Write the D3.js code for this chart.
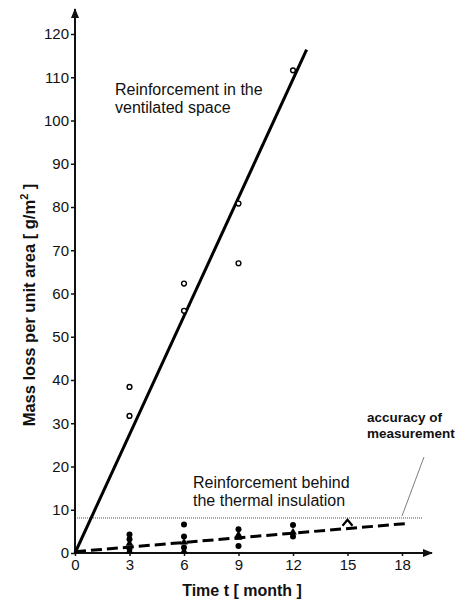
<!DOCTYPE html>
<html lang="en">
<head>
  <meta charset="utf-8">
  <title>Mass loss per unit area</title>
  <script src="https://d3js.org/d3.v7.min.js"></script>
<style>
body { margin: 0; background: #fff; }
svg { font-family: "Liberation Sans", Arial, sans-serif; }
.axis path, .axis line { stroke: #111; }
</style>
</head>
<body>
<svg width="461" height="603"></svg>
<script>

var xTicks = [0, 3, 6, 9, 12, 15, 18];
var yTicks = [0, 10, 20, 30, 40, 50, 60, 70, 80, 90, 100, 110, 120];

// open circles: reinforcement in the ventilated space
var ventMonths = [3, 3, 6, 6, 9, 9, 12];
var ventValues = [38.4, 31.7, 62.3, 56, 80.8, 67, 111.6];

// filled marks: reinforcement behind the thermal insulation
var dotMonths = [3, 3, 3, 6, 6, 6, 9, 9, 12, 12];
var dotValues = [4.3, 3.2, 1.0, 6.6, 3.8, 1.3, 5.5, 1.6, 6.5, 3.8];
var triMonths = [3, 3, 6, 6, 9, 9, 12];
var triValues = [2.2, 0.4, 2.5, 0.4, 4.2, 3.6, 4.8];
var caretMonths = [15];
var caretValues = [7.0];

// regression lines
var ventFit = [[0, 0], [12.75, 116.4]];
var behindFit = [[0, 0.3], [18.2, 6.8]];
var accuracy = 8.1;

var svg = d3.select('svg');

var x = d3.scaleLinear().domain([0, 18]).range([75, 402]);
var y = d3.scaleLinear().domain([0, 120]).range([553, 34]);

// axes with arrows
svg.append('defs').append('marker')
  .attr('id', 'arrow')
  .attr('viewBox', '0 0 10 10')
  .attr('refX', 9).attr('refY', 5)
  .attr('markerWidth', 5).attr('markerHeight', 5)
  .attr('orient', 'auto')
  .append('path')
  .attr('d', 'M0,1 L10,5 L0,9 Z')
  .attr('fill', '#111');

svg.append('line')
  .attr('x1', x(0)).attr('y1', y(0))
  .attr('x2', 432).attr('y2', y(0))
  .attr('stroke', '#111').attr('stroke-width', 2)
  .attr('marker-end', 'url(#arrow)');
svg.append('line')
  .attr('x1', x(0)).attr('y1', y(0))
  .attr('x2', x(0)).attr('y2', 9)
  .attr('stroke', '#111').attr('stroke-width', 2)
  .attr('marker-end', 'url(#arrow)');

var xAxis = svg.append('g')
  .attr('class', 'axis')
  .attr('transform', `translate(0,${y(0)})`)
  .call(d3.axisBottom(x).tickValues(xTicks).tickSize(3).tickPadding(3).tickFormat(d3.format('d')));
xAxis.select('.domain').remove();
xAxis.selectAll('line').attr('stroke-width', 1.5);
xAxis.selectAll('text').attr('font-size', 15).attr('fill', '#111')
  .attr('font-family', '"Liberation Sans", Arial, sans-serif');

var yAxis = svg.append('g')
  .attr('class', 'axis')
  .attr('transform', `translate(${x(0)},0)`)
  .call(d3.axisLeft(y).tickValues(yTicks).tickSize(4).tickPadding(2).tickFormat(d3.format('d')));
yAxis.select('.domain').remove();
yAxis.selectAll('line').attr('stroke-width', 1.5);
yAxis.selectAll('text').attr('font-size', 15).attr('fill', '#111')
  .attr('font-family', '"Liberation Sans", Arial, sans-serif');

// axis titles
var yTitle = svg.append('text')
  .attr('transform', 'translate(35,305) rotate(-90)')
  .attr('text-anchor', 'middle')
  .attr('font-size', 16.5)
  .attr('font-weight', 'bold')
  .attr('fill', '#111');
yTitle.append('tspan').text('Mass loss per unit area [ g/m');
yTitle.append('tspan').attr('dy', -7).attr('font-size', 11).text('2');
yTitle.append('tspan').attr('dy', 7).text(' ]');

svg.append('text')
  .attr('x', 242).attr('y', 596)
  .attr('text-anchor', 'middle')
  .attr('font-size', 16)
  .attr('font-weight', 'bold')
  .attr('fill', '#111')
  .text('Time t [ month ]');

// accuracy of measurement
svg.append('line')
  .attr('x1', x(0)).attr('x2', 422)
  .attr('y1', y(accuracy)).attr('y2', y(accuracy))
  .attr('stroke', '#222').attr('stroke-width', 0.8)
  .attr('stroke-dasharray', '1,1');
svg.append('line')
  .attr('x1', 402).attr('y1', y(accuracy) - 2)
  .attr('x2', 424).attr('y2', 457)
  .attr('stroke', '#444').attr('stroke-width', 0.7);

var line = d3.line().x(d => x(d[0])).y(d => y(d[1]));

svg.append('path')
  .attr('d', line(ventFit))
  .attr('fill', 'none').attr('stroke', '#000').attr('stroke-width', 3);
svg.append('path')
  .attr('d', line(behindFit))
  .attr('fill', 'none').attr('stroke', '#000').attr('stroke-width', 3)
  .attr('stroke-dasharray', '11,5');

svg.selectAll('.vent')
  .data(d3.range(ventMonths.length))
  .enter().append('circle')
  .attr('class', 'vent')
  .attr('cx', i => x(ventMonths[i]))
  .attr('cy', i => y(ventValues[i]))
  .attr('r', 2.4)
  .attr('fill', '#fff').attr('stroke', '#000').attr('stroke-width', 1.4);

svg.selectAll('.dot')
  .data(d3.range(dotMonths.length))
  .enter().append('circle')
  .attr('class', 'dot')
  .attr('cx', i => x(dotMonths[i]))
  .attr('cy', i => y(dotValues[i]))
  .attr('r', 3)
  .attr('fill', '#000');

var tri = d3.symbol().type(d3.symbolTriangle).size(26);
svg.selectAll('.tri')
  .data(d3.range(triMonths.length))
  .enter().append('path')
  .attr('class', 'tri')
  .attr('d', tri)
  .attr('transform', i => `translate(${x(triMonths[i])},${y(triValues[i])})`)
  .attr('fill', '#000');

svg.selectAll('.caret')
  .data(d3.range(caretMonths.length))
  .enter().append('path')
  .attr('class', 'caret')
  .attr('d', 'M-5,3 L0,-3 L5,3')
  .attr('transform', i => `translate(${x(caretMonths[i])},${y(caretValues[i])})`)
  .attr('fill', 'none').attr('stroke', '#000').attr('stroke-width', 2.2);

// annotations
function label(lines, px, py, size, weight) {
  var t = svg.append('text')
    .attr('x', px).attr('y', py)
    .attr('font-size', size)
    .attr('font-weight', weight)
    .attr('fill', '#111');
  lines.forEach((s, i) => {
    t.append('tspan').attr('x', px).attr('dy', i ? size * 1.15 : 0).text(s);
  });
}

label(['Reinforcement in the', 'ventilated space'], 115, 95, 16, 'normal');
label(['Reinforcement behind', 'the thermal insulation'], 193, 488, 16, 'normal');
label(['accuracy of', 'measurement'], 367, 422, 13.5, 'bold');

</script>
</body>
</html>
